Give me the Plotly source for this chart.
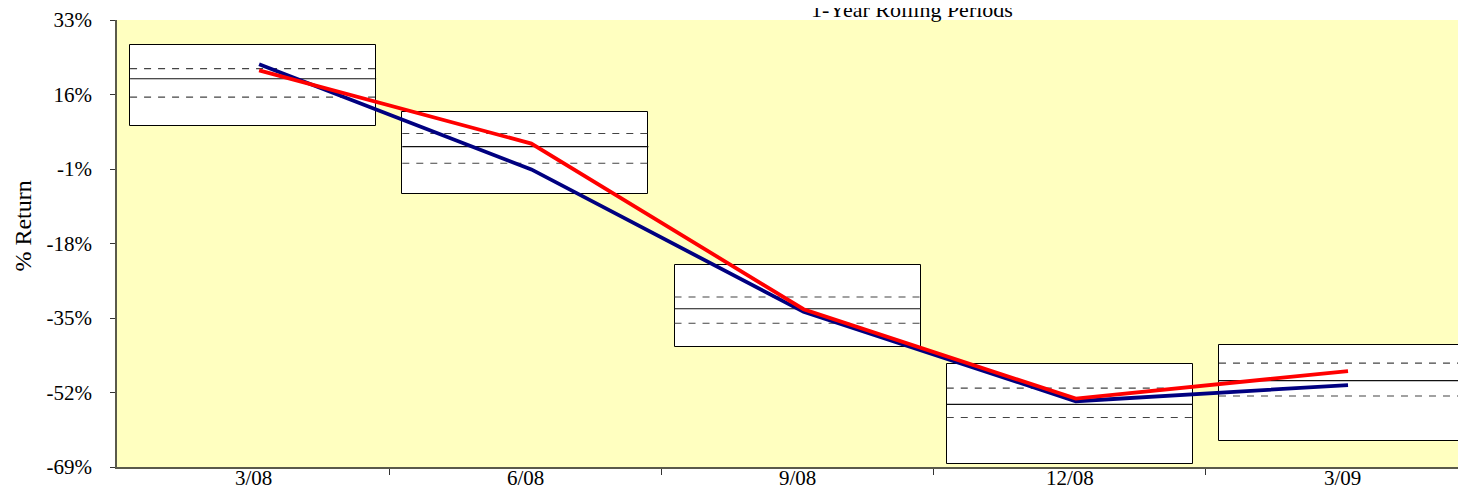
import plotly.graph_objects as go

# Quarter-end labels for the 1-year rolling periods
periods = ["3/08", "6/08", "9/08", "12/08", "3/09"]

# Floating box: full range, quartiles (dashed) and median (solid), in % return
box_high = [27.2, 12.1, -22.8, -45.5, -41.1]
box_low = [8.9, -6.8, -41.7, -68.4, -63.1]
upper_q = [21.9, 7.1, -30.2, -51.0, -45.3]
median = [19.6, 4.1, -32.9, -54.7, -49.3]
lower_q = [15.4, 0.3, -36.2, -57.7, -52.8]

# The two lines
blue_series = [22.9, -1.1, -33.6, -54.0, -50.3]
red_series = [21.5, 4.8, -33.0, -53.4, -47.1]

y_ticks = [-69, -52, -35, -18, -1, 16, 33]

FONT = "Liberation Serif, Times New Roman, serif"
BOX_W = 0.904
X_RANGE = [-0.5, 4.426]
LINE_SHIFT = 0.022  # the lines sit a touch right of the box centres
xs = list(range(len(periods)))


def hlines(values):
    # horizontal segment across each box
    x, y = [], []
    for i, v in zip(xs, values):
        x += [i - BOX_W / 2, i + BOX_W / 2, None]
        y += [v, v, None]
    return x, y


fig = go.Figure()

fig.add_trace(go.Bar(
    x=xs,
    y=[h - l for h, l in zip(box_high, box_low)],
    base=box_low,
    width=BOX_W,
    marker=dict(color="white", line=dict(color="black", width=1)),
    hoverinfo="skip",
))

for vals, dash, color in [
    (upper_q, "7px,7px", "#444444"),
    (lower_q, "7px,7px", "#444444"),
    (median, "solid", "#111111"),
]:
    lx, ly = hlines(vals)
    fig.add_trace(go.Scatter(
        x=lx, y=ly, mode="lines",
        line=dict(color=color, width=1.1, dash=dash),
        hoverinfo="skip",
    ))

fig.add_trace(go.Scatter(
    x=xs, y=blue_series, mode="lines", xaxis="x2",
    line=dict(color="#000080", width=3.8),
))
fig.add_trace(go.Scatter(
    x=xs, y=red_series, mode="lines", xaxis="x2",
    line=dict(color="#FF0000", width=3.8),
))

# category labels sit tight under the axis so they fit in the short bottom margin
cat_labels = [
    dict(
        text=p, x=i, xref="x", y=0, yref="paper",
        xanchor="center", yanchor="top", yshift=3,
        showarrow=False, font=dict(family=FONT, size=21, color="black"),
    )
    for i, p in zip(xs, periods)
]

# sized to fit inside the window together with the page's 8px body margin
fig.update_layout(
    width=1450,
    height=479,
    margin=dict(l=109, r=0, t=12, b=20),
    paper_bgcolor="white",
    plot_bgcolor="#FFFFC0",
    showlegend=False,
    font=dict(family=FONT, size=20, color="black"),
    bargap=0,
    xaxis=dict(
        range=X_RANGE,
        automargin=False,
        tickmode="array",
        tickvals=xs,
        showticklabels=False,
        ticks="",
        showgrid=False,
        zeroline=False,
        showline=True,
        linecolor="#5a5a4a",
        linewidth=1.5,
        minor=dict(
            tickmode="array",
            tickvals=[i + 0.5 for i in xs[:-1]],
            ticks="outside",
            ticklen=6,
            tickcolor="#333333",
            showgrid=False,
        ),
    ),
    xaxis2=dict(
        overlaying="x",
        range=[X_RANGE[0] - LINE_SHIFT, X_RANGE[1] - LINE_SHIFT],
        visible=False,
    ),
    yaxis=dict(
        range=[-69, 33],
        automargin=False,
        tickmode="array",
        tickvals=y_ticks,
        ticktext=[f"{v}%" for v in y_ticks],
        ticks="outside",
        ticklen=5,
        tickcolor="#333333",
        ticklabelstandoff=14,
        showgrid=False,
        zeroline=False,
        showline=True,
        linecolor="#5a5a4a",
        linewidth=1.5,
        tickfont=dict(size=21),
    ),
    annotations=[
        dict(
            text="1-Year Rolling Periods",
            xref="paper", yref="paper",
            x=0.5928, y=1.0224,
            xanchor="center", yanchor="middle",
            showarrow=False,
            font=dict(family=FONT, size=22, color="black"),
        ),
        dict(
            text="% Return",
            xref="paper", yref="paper",
            x=-0.0701, y=0.54,
            xanchor="center", yanchor="middle",
            textangle=-90,
            showarrow=False,
            font=dict(family=FONT, size=24, color="black"),
        ),
    ] + cat_labels,
)

fig.write_html("out.html")
